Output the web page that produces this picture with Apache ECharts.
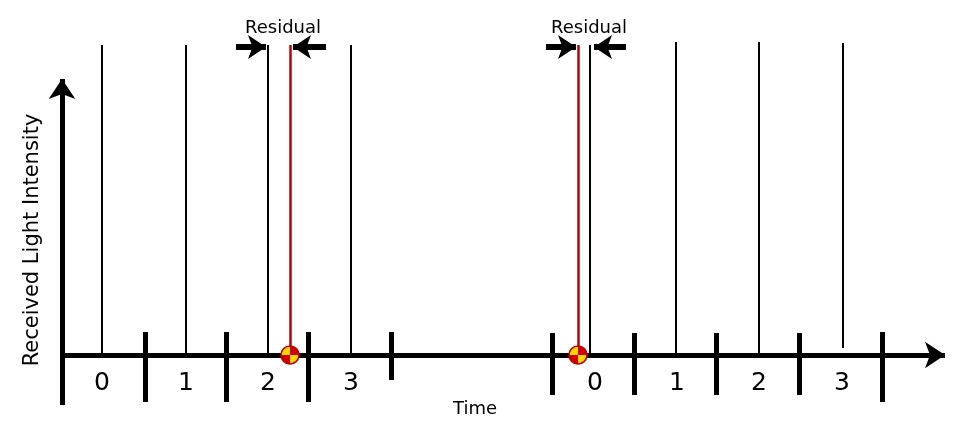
<!DOCTYPE html><html><head><meta charset="utf-8">
<script src="https://cdn.jsdelivr.net/npm/echarts@6/dist/echarts.min.js"></script>
<style>html,body{margin:0;background:#fff}#c{width:960px;height:431px}</style></head><body><div id="c"></div>
<script>
// Coordinates in chart units (x: time, y: intensity), axes spanning 0..960 and 0..431
const pulseX = [102,186,268,351,590,676,759,843];
const pulseTop = [386,386,386,386,386,389,389,388];
const pulseBottom = [76,76,76,76,76,76,76,83];
const redX = [290,578];
const boundaryX = [62,145,226,308,391,552,634,716,799,882];
const boundaryTop = [76,99,99,99,99,98,98,98,98,99];
const boundaryBottom = [26,29,29,29,51,36,36,36,36,29];
const slotLabelX = [102,186,268,351,595,677,759,842];
const slotLabels = ['0','1','2','3','0','1','2','3'];
const residualX = [283,589];
const arrowsIn = [[236,266],[326,293],[546,576],[626,594]];
const baseY = 76, topY = 386, arrowY = 384;

const seg = (x1,y1,x2,y2)=>({coords:[[x1,y1],[x2,y2]]});
const chart = echarts.init(document.getElementById('c'));
const lbl = (size)=>({show:true,position:'inside',formatter:p=>p.data[2],color:'#000',opacity:1,fontFamily:'DejaVu Sans',fontSize:size});
chart.setOption({
  animation:false,
  grid:{left:0,right:0,top:0,bottom:0},
  xAxis:{type:'value',min:0,max:960,show:false},
  yAxis:{type:'value',min:0,max:431,show:false},
  series:[
    {type:'lines',coordinateSystem:'cartesian2d',silent:true,
     lineStyle:{color:'#000',width:2,opacity:1},
     data:pulseX.map((x,i)=>seg(x,pulseBottom[i],x,pulseTop[i]))},
    {type:'lines',coordinateSystem:'cartesian2d',silent:true,
     lineStyle:{color:'#c00000',width:2.5,opacity:1},
     data:redX.map(x=>seg(x,baseY,x,topY))},
    {type:'lines',coordinateSystem:'cartesian2d',silent:true,
     lineStyle:{color:'#000',width:5,opacity:1},
     data:boundaryX.map((x,i)=>seg(x,boundaryBottom[i],x,boundaryTop[i]))},
    {type:'lines',coordinateSystem:'cartesian2d',silent:true,
     symbol:['none','arrow'],symbolSize:[0,20],
     lineStyle:{color:'#000',width:5,opacity:1},
     data:[seg(62,baseY,945,baseY),seg(62,26,62,352)]},
    {type:'lines',coordinateSystem:'cartesian2d',silent:true,
     symbol:['none','arrow'],symbolSize:[0,18],
     lineStyle:{color:'#000',width:6,opacity:1},
     data:arrowsIn.map(a=>seg(a[0],arrowY,a[1],arrowY))},
    {type:'custom',coordinateSystem:'cartesian2d',silent:true,
     data:redX.map(x=>[x,baseY]),
     renderItem:(p,api)=>{
       const pt=api.coord([api.value(0),api.value(1)]);const r=9;
       return {type:'group',children:[
         {type:'circle',shape:{cx:pt[0],cy:pt[1],r:r},style:{fill:'#ffd700',stroke:'#c00000',lineWidth:1.5}},
         {type:'sector',shape:{cx:pt[0],cy:pt[1],r0:0,r:r,startAngle:-Math.PI/2,endAngle:0},style:{fill:'#d00000'}},
         {type:'sector',shape:{cx:pt[0],cy:pt[1],r0:0,r:r,startAngle:Math.PI/2,endAngle:Math.PI},style:{fill:'#d00000'}}
       ]};
     }},
    {type:'scatter',silent:true,symbolSize:0,itemStyle:{opacity:1},label:lbl(25),
     data:slotLabelX.map((x,i)=>[x,48,slotLabels[i]])},
    {type:'scatter',silent:true,symbolSize:0,itemStyle:{opacity:1},label:lbl(18),
     data:residualX.map(x=>[x,403,'Residual']).concat([[475,22,'Time']])}
  ],
  graphic:[{type:'text',x:33,y:240,rotation:Math.PI/2,
    style:{text:'Received Light Intensity',fontFamily:'DejaVu Sans',fontSize:21,fill:'#000',align:'center',verticalAlign:'middle'}}]
});
</script></body></html>
